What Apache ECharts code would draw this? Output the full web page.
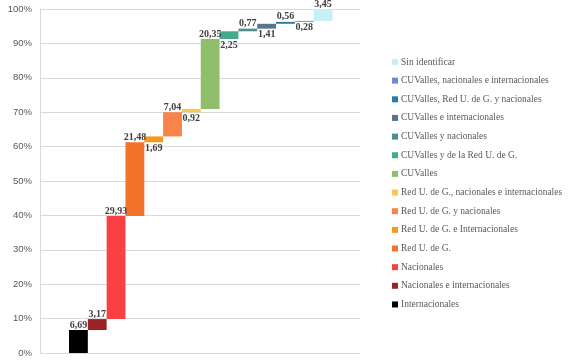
<!DOCTYPE html>
<html>
<head>
<meta charset="utf-8">
<script src="https://cdn.jsdelivr.net/npm/echarts@6/dist/echarts.min.js"></script>
<style>html,body{margin:0;padding:0;background:#fff}#c{width:573px;height:364px}</style>
</head>
<body>
<div id="c"></div>
<script>
const categories = [
  'Internacionales',
  'Nacionales e internacionales',
  'Nacionales',
  'Red U. de G.',
  'Red U. de G. e Internacionales',
  'Red U. de G. y nacionales',
  'Red U. de G., nacionales e internacionales',
  'CUValles',
  'CUValles y de la Red U. de G.',
  'CUValles y nacionales',
  'CUValles e internacionales',
  'CUValles, Red U. de G. y nacionales',
  'CUValles, nacionales e internacionales',
  'Sin identificar'
];
const values = [6.69, 3.17, 29.93, 21.48, 1.69, 7.04, 0.92, 20.35, 2.25, 0.77, 1.41, 0.56, 0.28, 3.45];
const colors = ['#000000','#9b2226','#f94144','#f3722c','#f8961e','#f9844a','#f9c74f','#90be6d','#43aa8b','#4d908e','#577590','#277da1','#6c8ed1','#c9eff6'];
const labelSides = ['top','top','top','top','bottom','top','bottom','top','bottom','top','bottom','top','bottom','top'];
const yTicks = [0, 10, 20, 30, 40, 50, 60, 70, 80, 90, 100];

const bases = [];
let run = 0;
values.forEach(v => { bases.push(run); run += v; });

const fmt = v => v.toFixed(2).replace('.', ',');

const series = [{
  name: '_base', type: 'bar', stack: 'w', silent: true,
  xAxisIndex: 1, yAxisIndex: 1,
  barCategoryGap: '0%',
  itemStyle: { color: 'transparent' },
  data: bases
}];
categories.forEach((name, k) => {
  series.push({
    name: name, type: 'bar', stack: 'w', barCategoryGap: '0%',
    xAxisIndex: 1, yAxisIndex: 1,
    itemStyle: { color: colors[k] },
    label: {
      show: true, position: labelSides[k], distance: labelSides[k] === 'top' ? 0 : 1,
      fontFamily: 'Liberation Serif', fontWeight: 'bold', fontSize: 10, color: '#404040',
      formatter: p => fmt(p.value)
    },
    data: values.map((v, i) => i === k ? v : '-')
  });
});

const yMin = yTicks[0], yMax = yTicks[yTicks.length - 1], yStep = yTicks[1] - yTicks[0];

const chart = echarts.init(document.getElementById('c'));
chart.setOption({
  animation: false,
  backgroundColor: '#ffffff',
  grid: [
    { left: 40, right: 213, top: 9, bottom: 11 },
    { left: 69, right: 240.5, top: 9, bottom: 11 }
  ],
  xAxis: [
    { type: 'category', gridIndex: 0, data: categories, show: false },
    { type: 'category', gridIndex: 1, data: categories, show: false }
  ],
  yAxis: [
    {
      type: 'value', gridIndex: 0, min: yMin, max: yMax, interval: yStep,
      axisLine: { show: true, onZero: false, lineStyle: { color: '#d9d9d9' } },
      axisTick: { show: false },
      splitLine: { lineStyle: { color: '#d9d9d9' } },
      axisLabel: { formatter: '{value}%', color: '#595959', fontFamily: 'Liberation Sans', fontSize: 9.5, margin: 8 }
    },
    { type: 'value', gridIndex: 1, min: yMin, max: yMax, interval: yStep, show: false, splitLine: { show: false } }
  ],
  legend: {
    orient: 'vertical', left: 387, top: 52,
    itemWidth: 6, itemHeight: 6, itemGap: 8.65, icon: 'rect',
    textStyle: { fontFamily: 'Liberation Serif', fontSize: 9.5, color: '#595959', padding: [0, 0, 0, -2] },
    data: categories.slice().reverse()
  },
  series: series
});
</script>
</body>
</html>
